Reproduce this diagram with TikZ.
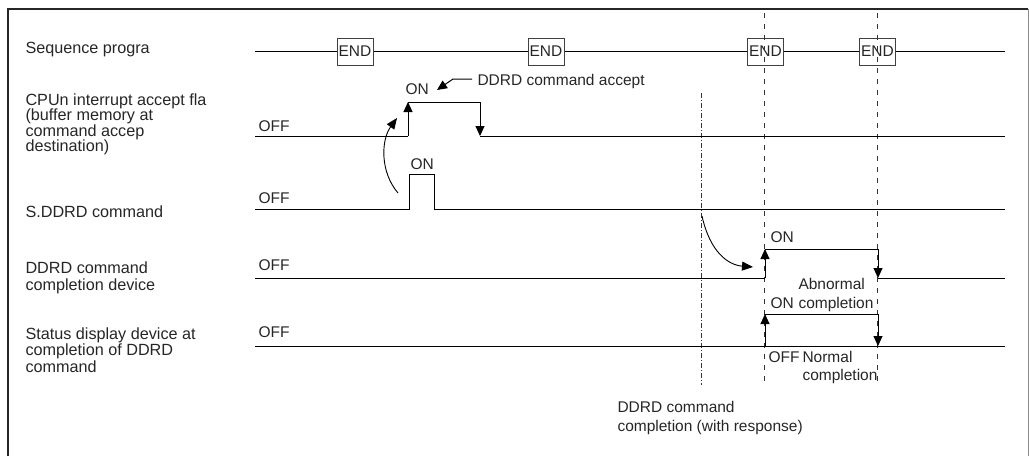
\documentclass[tikz,border=0pt]{standalone}
\usepackage{fontspec}
\setmainfont{Liberation Sans}
\usetikzlibrary{arrows.meta}
\begin{document}
\begin{tikzpicture}[x=1pt,y=-1pt,line width=1pt,
  every node/.style={font=\fontsize{15.5}{15.7}\selectfont,inner sep=0pt,text=black!85},
  lbl/.style={anchor=base west,align=left},
  rowlbl/.style={anchor=base west,align=left,font=\fontsize{16.2}{#1}\selectfont},
  rowlbl/.default=16,
  endbox/.style={draw=black!75,fill=white,minimum width=36pt,minimum height=27pt,inner sep=0pt,line width=1pt},
  wave/.style={line width=1pt,black},
  tip/.style={-{Triangle[length=10pt,width=9pt]}},
  guide/.style={line width=0.9pt,dash pattern=on 5pt off 6pt,black!80},
  guidedot/.style={line width=0.9pt,dash pattern=on 5pt off 2pt on 1pt off 2pt,black!80},
  curve/.style={line width=0.9pt,black,-{Triangle[length=11pt,width=9pt]}}
]
\useasboundingbox (0,0) rectangle (1029,456);
\draw[line width=1.6pt,black!85] (8,456) -- (8,9) -- (1028,9);
\draw[line width=1pt,black!45] (1028,9) -- (1028,456);

% row labels (base anchor = baseline of the last line)
\node[rowlbl] (seqlbl) at (25,53.5) {Sequence progra};
\node[rowlbl=15.6] (cpulbl) at (25,151.8) {CPUn interrupt accept fla\\(buffer memory at\\command accep\\destination)};
\node[rowlbl] (sdlbl) at (25,217) {S.DDRD command};
\node[rowlbl=17] (cdlbl) at (25,290) {DDRD command\\completion device};
\node[rowlbl=16.7] (stlbl) at (25,372.4) {Status display device at\\completion of DDRD\\command};

% sequence program
\coordinate (sqL) at (255,51.5);
\coordinate (sqR) at (1005,51.5);
\node[endbox] (e1) at (355,51.5) {END};
\node[endbox] (e2) at (546,51.5) {END};
\node[endbox] (e3) at (765.5,51.5) {END};
\node[endbox] (e4) at (877.5,51.5) {END};
\draw[wave] (sqL) -- (e1) (e1) -- (e2) (e2) -- (e3) (e3) -- (e4) (e4) -- (sqR);

% guide lines
\coordinate (g1t) at (764,13);
\coordinate (g1b) at (764,385);
\coordinate (g2t) at (877,13);
\coordinate (g2b) at (877,385);
\coordinate (g0t) at (701,93);
\coordinate (g0b) at (701,385);
\draw[guide] (g1t) -- (g1b);
\draw[guide] (g2t) -- (g2b);
\draw[guidedot] (g0t) -- (g0b);

% CPU interrupt accept flag
\coordinate (c0) at (255,136);
\coordinate (c1) at (408,136);
\coordinate (c2) at (408,102);
\coordinate (c3) at (480,102);
\coordinate (c4) at (480,136);
\coordinate (c5) at (1005,136);
\draw[wave] (c0) -- (c1);
\draw[wave,tip] (c1) -- (c2);
\draw[wave] (c2) -- (c3);
\draw[wave,tip] (c3) -- (c4);
\draw[wave] (c4) -- (c5);
\node[lbl] (cpuoff) at (258,131.5) {OFF};
\node[lbl] (cpuon) at (405,94) {ON};
\node[lbl] (acc) at (477,85) {DDRD command accept};
\coordinate (a0) at (472,79);
\coordinate (a1) at (453,79);
\coordinate (a2) at (437,90);
\draw[wave,tip] (a0) -- (a1) -- (a2);

% S.DDRD command
\coordinate (s0) at (255,209);
\coordinate (s1) at (409,209);
\coordinate (s2) at (409,174);
\coordinate (s3) at (434,174);
\coordinate (s4) at (434,209);
\coordinate (s5) at (1005,209);
\draw[wave] (s0) -- (s1) -- (s2) -- (s3) -- (s4) -- (s5);
\node[lbl] (sdoff) at (258,203) {OFF};
\node[lbl] (sdon) at (410,169) {ON};
\coordinate (k0) at (398,193);
\coordinate (k1) at (397,118);
\draw[curve] (k0) .. controls (380,172) and (381,140) .. (k1);

% DDRD command completion device
\coordinate (d0) at (255,278);
\coordinate (d1) at (765,278);
\coordinate (d2) at (765,249);
\coordinate (d3) at (878,249);
\coordinate (d4) at (878,278);
\coordinate (d5) at (1005,278);
\draw[wave] (d0) -- (d1);
\draw[wave,tip] (d1) -- (d2);
\draw[wave] (d2) -- (d3);
\draw[wave,tip] (d3) -- (d4);
\draw[wave] (d4) -- (d5);
\node[lbl] (cdoff) at (258,270) {OFF};
\node[lbl] (cdon) at (770,242.5) {ON};
\coordinate (m0) at (702,216);
\coordinate (m1) at (753,267);
\draw[curve] (m0) .. controls (710,252) and (728,265) .. (m1);

% status display device
\coordinate (t0) at (255,346);
\coordinate (t1) at (765,346);
\coordinate (t2) at (765,314);
\coordinate (t3) at (878,314);
\coordinate (t4) at (878,346);
\coordinate (t5) at (1005,346);
\draw[wave] (t0) -- (t5);
\draw[wave,tip] (t1) -- (t2);
\draw[wave] (t2) -- (t3);
\draw[wave,tip] (t3) -- (t4);
\node[lbl] (stoff) at (258,337) {OFF};
\node[lbl,font=\fontsize{15.5}{19}\selectfont] (abn) at (798,308) {Abnormal\\completion};
\node[lbl] (ston) at (770,308) {ON};
\node[lbl] (stoff2) at (768,362) {OFF};
\node[lbl,font=\fontsize{15.5}{18}\selectfont] (nrm) at (802,380) {Normal\\completion};

% bottom note
\node[lbl,font=\fontsize{15.5}{19}\selectfont] (resp) at (617,431) {DDRD command\\completion (with response)};
\end{tikzpicture}
\end{document}
